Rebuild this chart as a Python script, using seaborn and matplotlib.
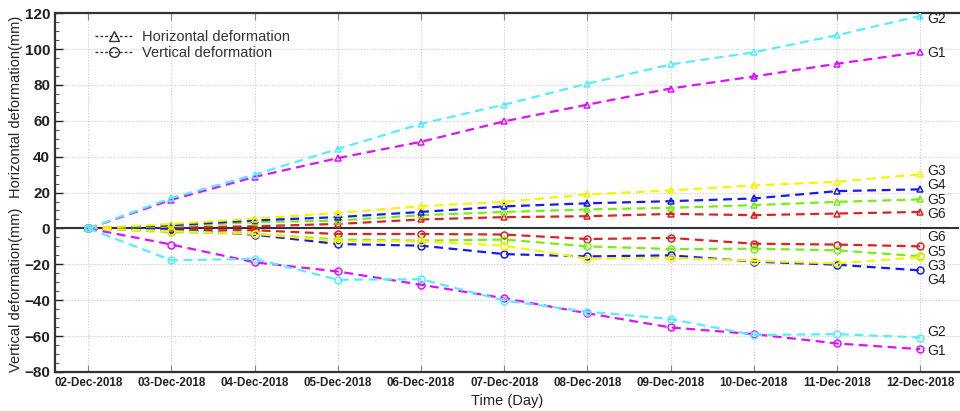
import numpy as np
import pandas as pd
import matplotlib
matplotlib.use("Agg")
import matplotlib.pyplot as plt
from matplotlib.lines import Line2D
from matplotlib.ticker import MultipleLocator
import seaborn as sns

dates = ["02-Dec-2018", "03-Dec-2018", "04-Dec-2018", "05-Dec-2018", "06-Dec-2018",
         "07-Dec-2018", "08-Dec-2018", "09-Dec-2018", "10-Dec-2018", "11-Dec-2018",
         "12-Dec-2018"]

# horizontal deformation (mm)
h_g1 = [0, 16, 28.7, 39.2, 48.3, 59.7, 69, 78, 84.7, 91.8, 98.3]
h_g2 = [0, 17, 30, 44.3, 58.3, 69, 80.7, 91.4, 98.2, 107.7, 118.5]
h_g3 = [0, 2.5, 5.5, 8.7, 12.4, 14.8, 19, 21.2, 24, 26, 30.2]
h_g4 = [0, 1.8, 4.5, 6.3, 9.2, 12.3, 14, 15.2, 16.7, 20.8, 21.8]
h_g5 = [0, 1.2, 3.5, 4.4, 7.4, 9.2, 10.6, 11.5, 13, 14.8, 16.2]
h_g6 = [0, 0.5, 1.2, 2.5, 5, 6.3, 6.8, 8.1, 7.4, 8.3, 9.2]

# vertical deformation (mm)
v_g1 = [0, -9, -18.9, -24, -31.4, -38.9, -47.3, -55.2, -58.9, -64.1, -67.3]
v_g2 = [0, -17.8, -16.9, -28.6, -28.3, -40.2, -46.4, -50.5, -59.4, -58.9, -60.8]
v_g3 = [0, -1.5, -3, -7, -7.2, -9.6, -16.9, -16.5, -18, -19.5, -16]
v_g4 = [0, -0.5, -3.5, -8.7, -9.6, -14.3, -15.6, -15, -18.5, -20.2, -23.4]
v_g5 = [0, -2, -3, -6.2, -6.8, -6.2, -10, -11.5, -11.3, -12.2, -15.5]
v_g6 = [0, -1, -1, -3.1, -3.1, -3.4, -5.9, -5.3, -8.5, -9, -10]

colors = {"G1": "#dd11ff", "G2": "#55eeff", "G3": "#f5f500",
          "G4": "#1a1aee", "G5": "#77ee11", "G6": "#dd2222"}

horizontal = {"G1": h_g1, "G2": h_g2, "G3": h_g3, "G4": h_g4, "G5": h_g5, "G6": h_g6}
vertical = {"G1": v_g1, "G2": v_g2, "G3": v_g3, "G4": v_g4, "G5": v_g5, "G6": v_g6}

# end-label placement (data y of label text)
h_label_y = {"G2": 116.6, "G1": 97.6, "G3": 32, "G4": 24, "G5": 16, "G6": 8}
v_label_y = {"G6": -5, "G5": -13, "G3": -21, "G4": -29, "G2": -58, "G1": -68.5}

sns.set_style("ticks")
plt.rcParams["font.family"] = ["Liberation Sans", "DejaVu Sans"]

fig = plt.figure(figsize=(9.6, 4.11), dpi=100)
ax = fig.add_axes([0.0573, 0.095, 0.942, 0.873])

x = np.arange(len(dates))
ax.axhline(0, color="#333333", lw=1.5, zorder=1)

for name in ["G6", "G5", "G4", "G3", "G1", "G2"]:
    for data, mk in [(horizontal, "^"), (vertical, "o")]:
        df = pd.DataFrame({"day": x, "val": data[name]})
        sns.lineplot(data=df, x="day", y="val", ax=ax, color=colors[name],
                     linestyle=(0, (4, 2.5)), lw=1.6, marker=mk, markersize=5,
                     markerfacecolor="none", markeredgecolor=colors[name],
                     markeredgewidth=1.1, zorder=3)

for name, yy in h_label_y.items():
    ax.text(10.08, yy, name, fontsize=10, color="#222222", va="center", ha="left")
for name, yy in v_label_y.items():
    ax.text(10.08, yy, name, fontsize=10, color="#222222", va="center", ha="left")

ax.set_xlim(-0.4, 10.47)
ax.set_ylim(-80, 120)
ax.set_xticks(x)
ax.set_xticklabels(dates, fontsize=8.4, fontweight="bold", color="#222222")
ax.yaxis.set_major_locator(MultipleLocator(20))
ax.yaxis.set_minor_locator(MultipleLocator(5))
ax.tick_params(axis="y", labelsize=11, direction="in", length=6, width=1, colors="#222222")
ax.tick_params(axis="y", which="minor", direction="in", length=3, width=0.8, color="#555555")
ax.tick_params(axis="x", direction="in", length=5, top=True, color="#888888")
for lbl in ax.get_yticklabels():
    lbl.set_fontweight("bold")

ax.grid(True, which="major", color="#cccccc", linestyle=(0, (1, 1.5)), lw=0.8)
ax.set_axisbelow(True)
for s in ["left", "bottom", "top"]:
    ax.spines[s].set_linewidth(1.6)
    ax.spines[s].set_color("#333333")
ax.spines["right"].set_visible(False)

ax.set_xlabel("Time (Day)", fontsize=10.5, color="#222222", labelpad=4)
ax.set_ylabel("")
fig.text(0.017, 1 - 107 / 411, "Horizontal deformation(mm)", rotation=90,
         fontsize=10.5, va="center", ha="center", color="#222222")
fig.text(0.017, 1 - 290 / 411, "Vertical deformation(mm)", rotation=90,
         fontsize=10.5, va="center", ha="center", color="#222222")

handles = [Line2D([], [], color="#333333", lw=1, linestyle=(0, (2, 1.5)), marker="^",
                  markerfacecolor="none", markersize=7),
           Line2D([], [], color="#333333", lw=1, linestyle=(0, (2, 1.5)), marker="o",
                  markerfacecolor="none", markersize=7)]
ax.legend(handles, ["Horizontal deformation", "Vertical deformation"], loc="upper left",
          bbox_to_anchor=(0.03, 0.99), frameon=False, fontsize=10.5, handlelength=2.6,
          handletextpad=0.6, labelspacing=0.15, labelcolor="#333333")

fig.savefig("out.png", dpi=100)
